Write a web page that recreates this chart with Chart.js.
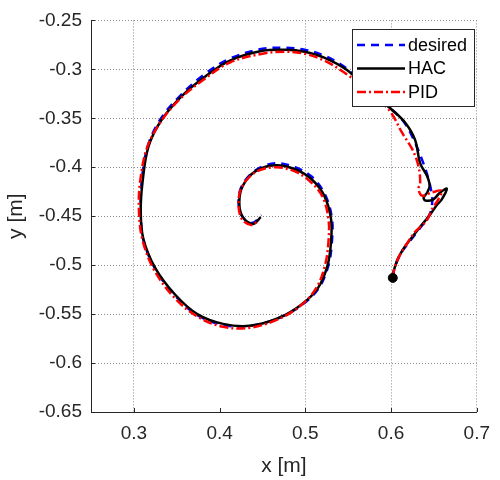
<!DOCTYPE html>
<html>
<head>
<meta charset="utf-8">
<script src="https://cdn.jsdelivr.net/npm/chart.js@4/dist/chart.umd.min.js"></script>
<style>
  body { margin: 0; background: #fff; }
</style>
</head>
<body>
<canvas id="trajChart" width="500" height="480"></canvas>
<script>
// Trajectory data (start point -> spiral centre)
const desiredX = [0.602, 0.604, 0.610, 0.618, 0.633, 0.645, 0.648, 0.647, 0.643, 0.636, 0.626, 0.616, 0.601, 0.573, 0.548,
  0.522, 0.499, 0.477, 0.450, 0.412, 0.381, 0.354, 0.331, 0.316, 0.309, 0.308, 0.311, 0.325, 0.348, 0.374, 0.404, 0.435,
  0.469, 0.497, 0.516, 0.527, 0.531, 0.531, 0.523, 0.508, 0.488, 0.465, 0.442, 0.426, 0.422, 0.427, 0.438, 0.449];
const desiredY = [-0.513, -0.503, -0.490, -0.480, -0.463, -0.448, -0.436, -0.425, -0.410, -0.392, -0.371, -0.355, -0.341, -0.320, -0.299,
  -0.286, -0.280, -0.278, -0.279, -0.289, -0.306, -0.327, -0.351, -0.379, -0.416, -0.447, -0.474, -0.504, -0.531, -0.551, -0.561, -0.562,
  -0.554, -0.540, -0.523, -0.500, -0.476, -0.452, -0.428, -0.410, -0.400, -0.396, -0.403, -0.419, -0.436, -0.451, -0.457, -0.449];

const hacX = [0.602, 0.604, 0.610, 0.617, 0.632, 0.645, 0.653, 0.659, 0.665, 0.657, 0.649, 0.640, 0.638, 0.642, 0.645, 0.642, 0.634,
  0.628, 0.617, 0.602, 0.573, 0.549, 0.522, 0.499, 0.477, 0.450, 0.412, 0.382, 0.355, 0.332, 0.317, 0.310, 0.308, 0.311, 0.325,
  0.348, 0.374, 0.404, 0.435, 0.469, 0.496, 0.515, 0.526, 0.530, 0.530, 0.522, 0.507, 0.488, 0.465, 0.442, 0.427, 0.423, 0.427,
  0.439, 0.448];
const hacY = [-0.513, -0.503, -0.490, -0.480, -0.463, -0.449, -0.439, -0.433, -0.422, -0.426, -0.433, -0.434, -0.431, -0.426, -0.419, -0.409, -0.396,
  -0.372, -0.355, -0.342, -0.321, -0.301, -0.288, -0.282, -0.280, -0.281, -0.291, -0.308, -0.328, -0.352, -0.379, -0.416, -0.446, -0.473, -0.503,
  -0.530, -0.550, -0.560, -0.562, -0.554, -0.540, -0.523, -0.500, -0.476, -0.453, -0.429, -0.412, -0.402, -0.398, -0.404, -0.419, -0.436, -0.451,
  -0.458, -0.451];

const pidX = [0.602, 0.604, 0.610, 0.620, 0.628, 0.642, 0.647, 0.655, 0.659, 0.647, 0.636, 0.632, 0.634, 0.632, 0.625, 0.613, 0.598,
  0.570, 0.545, 0.522, 0.499, 0.477, 0.450, 0.412, 0.382, 0.354, 0.331, 0.315, 0.307, 0.306, 0.310, 0.323, 0.346, 0.373, 0.404,
  0.435, 0.469, 0.495, 0.513, 0.523, 0.527, 0.527, 0.520, 0.505, 0.487, 0.465, 0.442, 0.426, 0.422, 0.426, 0.437, 0.446];
const pidY = [-0.513, -0.503, -0.490, -0.476, -0.466, -0.454, -0.444, -0.433, -0.424, -0.426, -0.429, -0.422, -0.416, -0.399, -0.382, -0.365, -0.342,
  -0.320, -0.303, -0.291, -0.284, -0.282, -0.284, -0.293, -0.310, -0.330, -0.354, -0.381, -0.417, -0.446, -0.474, -0.504, -0.532, -0.552, -0.563,
  -0.564, -0.555, -0.541, -0.523, -0.500, -0.476, -0.453, -0.430, -0.414, -0.404, -0.400, -0.405, -0.420, -0.437, -0.453, -0.459, -0.454];

const startPoint = [0.602, -0.513];

const xTickVals = [0.3, 0.4, 0.5, 0.6, 0.7];
const yTickVals = [-0.25, -0.3, -0.35, -0.4, -0.45, -0.5, -0.55, -0.6, -0.65];

const legendLabels = ['desired', 'HAC', 'PID'];

function toPoints(xs, ys) {
    return xs.map((x, i) => ({ x: x, y: ys[i] }));
}

const axisColor = '#262626';
const fontFamily = '"Liberation Sans", Arial, sans-serif';

const lineStyles = [
    { color: '#0000ff', dash: [8, 6] },
    { color: '#000000', dash: [] },
    { color: '#ff0000', dash: [9, 3, 2, 3] }
];

// legend drawn inside the plot, top right
const insideLegend = {
    id: 'insideLegend',
    afterDraw(chart) {
        const ctx = chart.ctx;
        const bx = 352, by = 29, bw = 122, bh = 77;
        ctx.save();
        ctx.fillStyle = '#fff';
        ctx.fillRect(bx, by, bw, bh);
        ctx.strokeStyle = axisColor;
        ctx.lineWidth = 1;
        ctx.strokeRect(bx + 0.5, by + 0.5, bw, bh);
        ctx.font = '18px ' + fontFamily;
        ctx.textBaseline = 'middle';
        ctx.textAlign = 'left';
        legendLabels.forEach((label, i) => {
            const y = 45 + i * 23.5;
            ctx.strokeStyle = lineStyles[i].color;
            ctx.lineWidth = 2.5;
            ctx.setLineDash(lineStyles[i].dash);
            ctx.beginPath();
            ctx.moveTo(357, y);
            ctx.lineTo(405, y);
            ctx.stroke();
            ctx.setLineDash([]);
            ctx.fillStyle = '#000';
            ctx.fillText(label, 408, y + 1);
        });
        ctx.restore();
    }
};

// short inward tick marks like the original axes
const innerTicks = {
    id: 'innerTicks',
    afterDatasetsDraw(chart) {
        const { ctx, chartArea, scales } = chart;
        ctx.save();
        ctx.strokeStyle = axisColor;
        ctx.lineWidth = 1;
        ctx.beginPath();
        xTickVals.forEach(v => {
            const px = Math.round(scales.x.getPixelForValue(v)) + 0.5;
            ctx.moveTo(px, chartArea.bottom);
            ctx.lineTo(px, chartArea.bottom - 4);
        });
        yTickVals.forEach(v => {
            const py = Math.round(scales.y.getPixelForValue(v)) + 0.5;
            ctx.moveTo(chartArea.left, py);
            ctx.lineTo(chartArea.left + 4, py);
        });
        ctx.stroke();
        ctx.restore();
    }
};

const ctx = document.getElementById('trajChart').getContext('2d');
new Chart(ctx, {
    type: 'scatter',
    data: {
        datasets: [{
            label: 'start',
            data: [{ x: startPoint[0], y: startPoint[1] }],
            pointRadius: 4.5,
            pointBackgroundColor: '#000',
            pointBorderColor: '#000',
            showLine: false,
            order: 0
        }, {
            label: legendLabels[2],
            data: toPoints(pidX, pidY),
            borderColor: lineStyles[2].color,
            borderDash: lineStyles[2].dash,
            borderWidth: 2.5,
            showLine: true,
            pointRadius: 0,
            tension: 0.35,
            order: 1
        }, {
            label: legendLabels[1],
            data: toPoints(hacX, hacY),
            borderColor: lineStyles[1].color,
            borderWidth: 2.5,
            showLine: true,
            pointRadius: 0,
            tension: 0.35,
            order: 2
        }, {
            label: legendLabels[0],
            data: toPoints(desiredX, desiredY),
            borderColor: lineStyles[0].color,
            borderDash: lineStyles[0].dash,
            borderWidth: 2.5,
            showLine: true,
            pointRadius: 0,
            tension: 0.35,
            order: 3
        }]
    },
    options: {
        responsive: false,
        animation: false,
        devicePixelRatio: 1,
        layout: { padding: { top: 17, right: 13, left: 0, bottom: 0 } },
        plugins: {
            legend: { display: false },
            tooltip: { enabled: false }
        },
        scales: {
            x: {
                type: 'linear',
                min: 0.25,
                max: 0.7,
                afterBuildTicks: s => { s.ticks = xTickVals.map(v => ({ value: v })); },
                afterFit: s => { s.height = 68; },
                ticks: {
                    color: axisColor,
                    font: { family: fontFamily, size: 19 },
                    padding: 10,
                    maxRotation: 0,
                    callback: v => String(v)
                },
                grid: {
                    drawTicks: false,
                    lineWidth: 1,
                    color: c => (c.tick && Math.abs(c.tick.value - 0.4) < 1e-6) ? 'rgba(0,0,0,0)' : '#8a8a8a'
                },
                border: { display: true, color: axisColor, width: 1, dash: [1, 2] },
                title: {
                    display: true,
                    text: 'x [m]',
                    color: axisColor,
                    font: { family: fontFamily, size: 21 },
                    padding: { top: 0, bottom: 1 }
                }
            },
            y: {
                type: 'linear',
                min: -0.65,
                max: -0.25,
                afterBuildTicks: s => { s.ticks = yTickVals.map(v => ({ value: v })); },
                afterFit: s => { s.width = 91; },
                ticks: {
                    color: axisColor,
                    font: { family: fontFamily, size: 19 },
                    padding: 9,
                    callback: v => String(v)
                },
                grid: {
                    drawTicks: false,
                    lineWidth: 1,
                    color: '#8a8a8a'
                },
                border: { display: true, color: axisColor, width: 1, dash: [1, 2] },
                title: {
                    display: true,
                    text: 'y [m]',
                    color: axisColor,
                    font: { family: fontFamily, size: 21 },
                    padding: { top: 4, bottom: 0 }
                }
            }
        }
    },
    plugins: [innerTicks, insideLegend]
});
</script>
</body>
</html>
